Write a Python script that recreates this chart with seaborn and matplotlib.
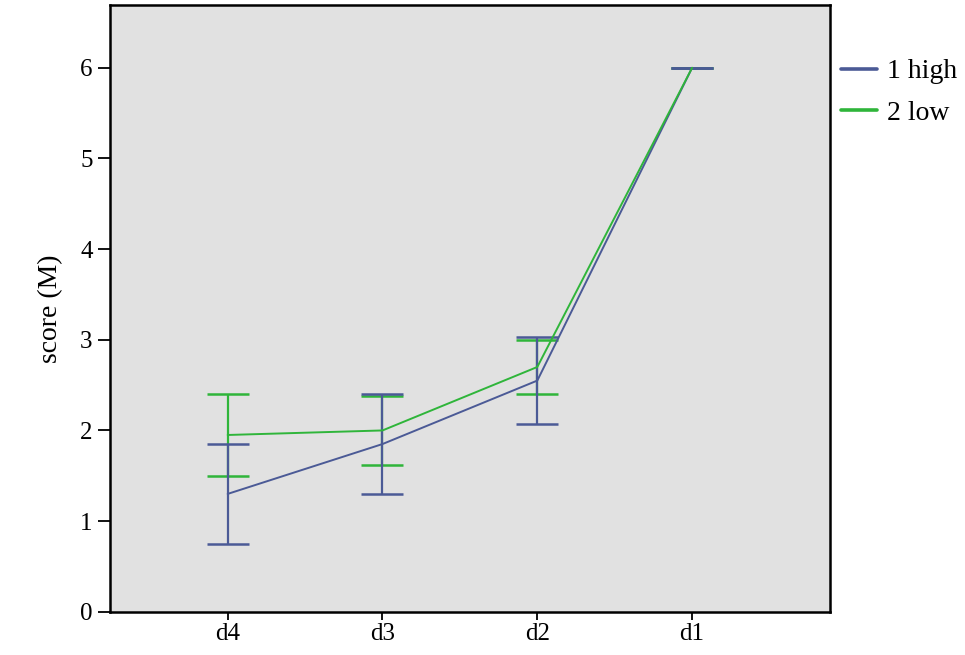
import numpy as np
import pandas as pd
import seaborn as sns
from matplotlib import pyplot as plt

# summary values (mean +/- half width of the error bar)
doses = ['d4', 'd3', 'd2', 'd1']
groups = ['1 high', '2 low']
high_mean = [1.30, 1.85, 2.55, 6.00]
high_err = [0.55, 0.55, 0.48, 0.0]
low_mean = [1.95, 2.00, 2.70, 6.00]
low_err = [0.45, 0.38, 0.30, 0.0]
colors = {'1 high': '#4b5a96', '2 low': '#2fb53a'}

sns.set_theme(style='white')
plt.rcParams['font.family'] = ['Liberation Serif', 'DejaVu Serif']
plt.rcParams['text.color'] = 'black'
plt.rcParams['axes.labelcolor'] = 'black'
plt.rcParams['xtick.color'] = 'black'
plt.rcParams['ytick.color'] = 'black'

df = pd.DataFrame({
    'dose': doses * 2,
    'group': [groups[0]] * len(doses) + [groups[1]] * len(doses),
    'score': high_mean + low_mean,
})

fig = plt.figure(figsize=(9.65, 6.55), dpi=100)
ax = fig.add_axes([0.114, 0.066, 0.746, 0.926])
ax.set_facecolor('#e1e1e1')

pos = np.arange(len(doses))
for g, m, e in [(groups[1], low_mean, low_err), (groups[0], high_mean, high_err)]:
    ax.errorbar(pos, m, yerr=e, fmt='none', ecolor=colors[g],
                elinewidth=1.6, capsize=15, capthick=1.8, zorder=2)

sns.pointplot(data=df, x='dose', y='score', hue='group', order=doses,
              hue_order=groups, palette=colors, markers='', errorbar=None,
              linewidth=1.4, ax=ax, zorder=3)

ax.set_xlim(-0.76, 3.89)
ax.set_ylim(0, 6.69)
ax.set_yticks(range(7))
ax.set_xlabel('')
ax.set_ylabel('score (M)', fontsize=20, labelpad=12)
ax.tick_params(axis='y', direction='out', length=8.5, width=1.3,
               labelsize=18, left=True, pad=4)
ax.tick_params(axis='x', direction='out', length=6, width=1.3,
               labelsize=18, bottom=True, pad=2)
for s in ax.spines.values():
    s.set_color('black')
    s.set_linewidth(1.8)

h, l = ax.get_legend_handles_labels()
leg = ax.legend(h, l, loc='upper left', bbox_to_anchor=(1.0, 0.93), frameon=False,
                fontsize=20, handlelength=1.3, handletextpad=0.35, labelspacing=0.58,
                borderaxespad=0.2, borderpad=0.2)
for ln in leg.get_lines():
    ln.set_linewidth(2.6)

fig.savefig('out.png', dpi=100)
